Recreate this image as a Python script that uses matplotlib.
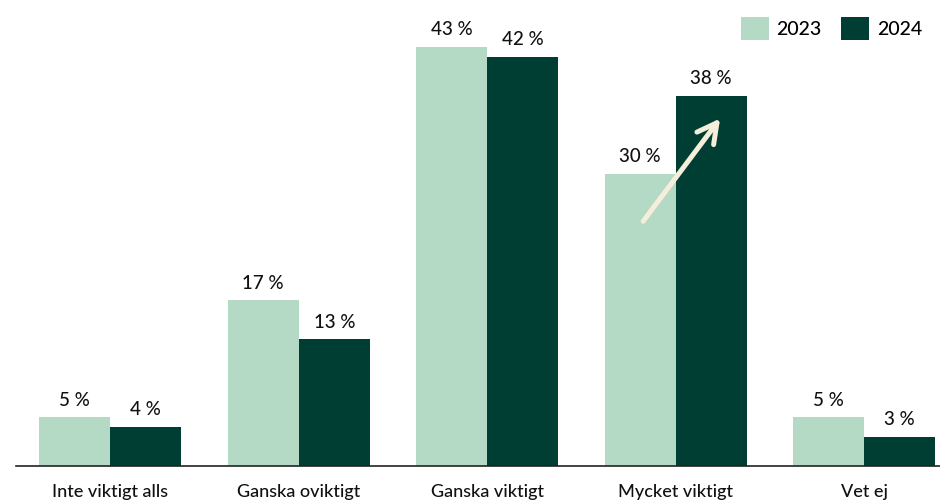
import numpy as np
import matplotlib.pyplot as plt

# data
kategorier = ['Inte viktigt alls', 'Ganska oviktigt', 'Ganska viktigt', 'Mycket viktigt', 'Vet ej']
v2023 = [5, 17, 43, 30, 5]
v2024 = [4, 13, 42, 38, 3]
serier = ['2023', '2024']

ljus = '#b4dac5'
mork = '#003d32'
kram = '#f4eedb'

plt.rcParams['font.family'] = ['Lato', 'DejaVu Sans']

fig = plt.figure(figsize=(9.4, 5.02), dpi=100)
ax = fig.add_axes([16 / 940, 35 / 502, 924 / 940, 467 / 502])

x = np.arange(len(kategorier))
w = 0.377
b1 = ax.bar(x - w / 2, v2023, w, color=ljus, label=serier[0])
b2 = ax.bar(x + w / 2, v2024, w, color=mork, label=serier[1])

for bars, vals in ((b1, v2023), (b2, v2024)):
    for r, v in zip(bars, vals):
        ax.annotate(f'{v} %', (r.get_x() + r.get_width() / 2, v), xytext=(0, 7),
                    textcoords='offset points', ha='center', va='bottom',
                    fontsize=13.5, fontweight='medium', color='#111111')

# pil vid "Mycket viktigt"
ax.annotate('', xy=(3 + w * 0.65, 35.9), xytext=(3 - w * 0.48, 24.9),
            arrowprops=dict(arrowstyle='->,head_length=1.4,head_width=0.75',
                            color=kram, lw=3.6))

ax.set_xlim(-0.5, 4.403)
ax.set_ylim(0, 467 / 9.74)
ax.set_xticks(x)
ax.set_xticklabels(kategorier, fontsize=13, fontweight='medium', color='#111111')
ax.tick_params(axis='x', length=0, pad=12)
ax.set_yticks([])
for s in ['top', 'right', 'left']:
    ax.spines[s].set_visible(False)
ax.spines['bottom'].set_color('#222222')
ax.spines['bottom'].set_linewidth(1.2)

fig.legend(loc='upper right', bbox_to_anchor=(1.0, 1.0), ncol=2, frameon=False,
           prop={'size': 14, 'weight': 'medium'}, handlelength=1.45, handleheight=1.45,
           columnspacing=1.0, handletextpad=0.4)

fig.savefig('out.png', dpi=100)
